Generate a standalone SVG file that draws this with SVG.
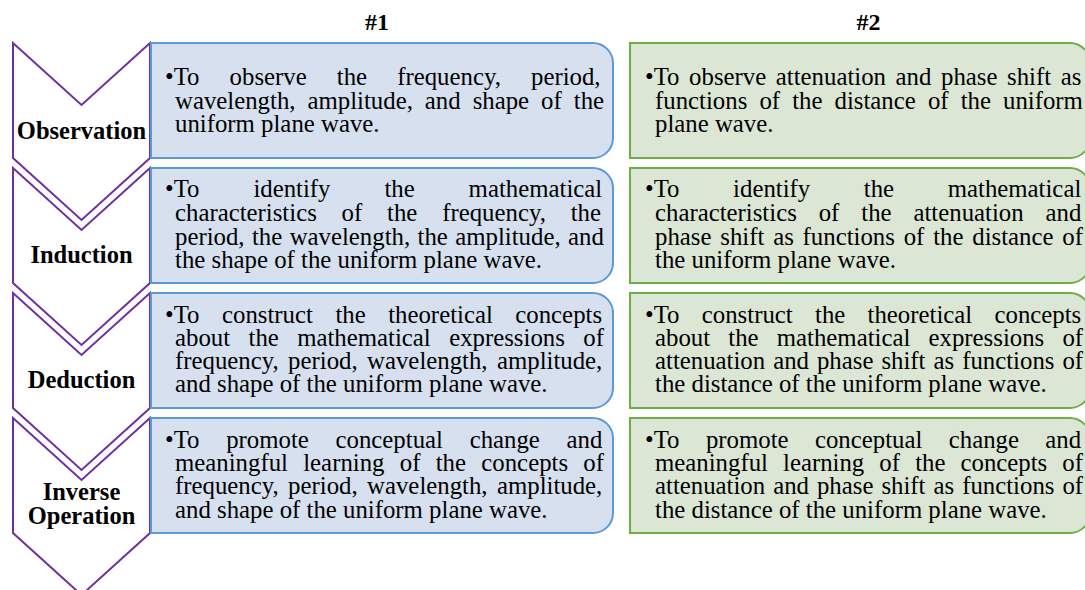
<svg xmlns="http://www.w3.org/2000/svg" width="1085" height="590" viewBox="0 0 1085 590">
<style>
.chev{fill:#fff;stroke:#7030A0;stroke-width:2;stroke-linejoin:miter}
.lbl{font-family:"Liberation Serif","Times New Roman",serif;font-weight:bold;font-size:24.5px;fill:#000;text-anchor:middle}
.hdr{font-family:"Liberation Serif","Times New Roman",serif;font-weight:bold;font-size:24px;fill:#000;text-anchor:middle}
.blue{fill:#D6E0EF;stroke:#5B9BD5;stroke-width:2}
.green{fill:#DBE6D5;stroke:#70AD47;stroke-width:2}
.body{font-family:"Liberation Serif","Times New Roman",serif;font-size:24.8px;fill:#000}
</style>
<rect width="1085" height="590" fill="#fff"/>
<g id="headers">
<text class="hdr" x="377" y="29.5">#1</text>
<text class="hdr" x="868.5" y="29.5">#2</text>
</g>
<g id="connectors"></g>
<g id="step-observation">
<path class="chev" d="M13,43 L81.5,105 L150,43 L150,158 L81.5,220 L13,158 Z"/>
<text class="lbl" x="81.5" y="139">Observation</text>
</g>
<g id="step-induction">
<path class="chev" d="M13,168 L81.5,230 L150,168 L150,283 L81.5,345 L13,283 Z"/>
<text class="lbl" x="81.5" y="263">Induction</text>
</g>
<g id="step-deduction">
<path class="chev" d="M13,293 L81.5,355 L150,293 L150,408 L81.5,470 L13,408 Z"/>
<text class="lbl" x="81.5" y="388">Deduction</text>
</g>
<g id="step-inverse">
<path class="chev" d="M13,418 L81.5,480 L150,418 L150,533 L81.5,595 L13,533 Z"/>
<text class="lbl" x="81.5"><tspan x="81.5" y="500">Inverse</tspan><tspan x="81.5" y="524">Operation</tspan></text>
</g>
<g id="box1-observation">
<path class="blue" d="M151,43 H593 A20,20 0 0 1 613,63 V138 A20,20 0 0 1 593,158 H151 Z"/>
<text class="body"><tspan x="165" y="85" word-spacing="23.9">•To observe the frequency, period,</tspan><tspan x="175" y="108.5" word-spacing="5.8">wavelength, amplitude, and shape of the</tspan><tspan x="175" y="132">uniform plane wave.</tspan></text>
</g>
<g id="box1-induction">
<path class="blue" d="M151,168 H593 A20,20 0 0 1 613,188 V263 A20,20 0 0 1 593,283 H151 Z"/>
<text class="body"><tspan x="165" y="197" word-spacing="47.7">•To identify the mathematical</tspan><tspan x="175" y="221" word-spacing="18.6">characteristics of the frequency, the</tspan><tspan x="175" y="244.5" word-spacing="1.2">period, the wavelength, the amplitude, and</tspan><tspan x="175" y="268">the shape of the uniform plane wave.</tspan></text>
</g>
<g id="box1-deduction">
<path class="blue" d="M151,293 H593 A20,20 0 0 1 613,313 V388 A20,20 0 0 1 593,408 H151 Z"/>
<text class="body"><tspan x="165" y="323" word-spacing="16.3">•To construct the theoretical concepts</tspan><tspan x="175" y="346" word-spacing="12.2">about the mathematical expressions of</tspan><tspan x="175" y="369" word-spacing="3.2">frequency, period, wavelength, amplitude,</tspan><tspan x="175" y="392">and shape of the uniform plane wave.</tspan></text>
</g>
<g id="box1-inverse">
<path class="blue" d="M151,418 H593 A20,20 0 0 1 613,438 V513 A20,20 0 0 1 593,533 H151 Z"/>
<text class="body"><tspan x="165" y="448" word-spacing="20.5">•To promote conceptual change and</tspan><tspan x="175" y="471" word-spacing="9.1">meaningful learning of the concepts of</tspan><tspan x="175" y="494" word-spacing="3.2">frequency, period, wavelength, amplitude,</tspan><tspan x="175" y="517.5">and shape of the uniform plane wave.</tspan></text>
</g>
<g id="box2-observation">
<path class="green" d="M630,43 H1070 A20,20 0 0 1 1090,63 V138 A20,20 0 0 1 1070,158 H630 Z"/>
<text class="body"><tspan x="645" y="85" word-spacing="3.4">•To observe attenuation and phase shift as</tspan><tspan x="655" y="108.5" word-spacing="5.9">functions of the distance of the uniform</tspan><tspan x="655" y="132">plane wave.</tspan></text>
</g>
<g id="box2-induction">
<path class="green" d="M630,168 H1070 A20,20 0 0 1 1090,188 V263 A20,20 0 0 1 1070,283 H630 Z"/>
<text class="body"><tspan x="645" y="197" word-spacing="47.4">•To identify the mathematical</tspan><tspan x="655" y="221" word-spacing="15.7">characteristics of the attenuation and</tspan><tspan x="655" y="244.5" word-spacing="2.6">phase shift as functions of the distance of</tspan><tspan x="655" y="268">the uniform plane wave.</tspan></text>
</g>
<g id="box2-deduction">
<path class="green" d="M630,293 H1070 A20,20 0 0 1 1090,313 V388 A20,20 0 0 1 1070,408 H630 Z"/>
<text class="body"><tspan x="645" y="323" word-spacing="16.1">•To construct the theoretical concepts</tspan><tspan x="655" y="346" word-spacing="12.0">about the mathematical expressions of</tspan><tspan x="655" y="369" word-spacing="1.8">attenuation and phase shift as functions of</tspan><tspan x="655" y="392">the distance of the uniform plane wave.</tspan></text>
</g>
<g id="box2-inverse">
<path class="green" d="M630,418 H1070 A20,20 0 0 1 1090,438 V513 A20,20 0 0 1 1070,533 H630 Z"/>
<text class="body"><tspan x="645" y="448" word-spacing="20.2">•To promote conceptual change and</tspan><tspan x="655" y="471" word-spacing="8.9">meaningful learning of the concepts of</tspan><tspan x="655" y="494" word-spacing="1.8">attenuation and phase shift as functions of</tspan><tspan x="655" y="517.5">the distance of the uniform plane wave.</tspan></text>
</g>
</svg>
